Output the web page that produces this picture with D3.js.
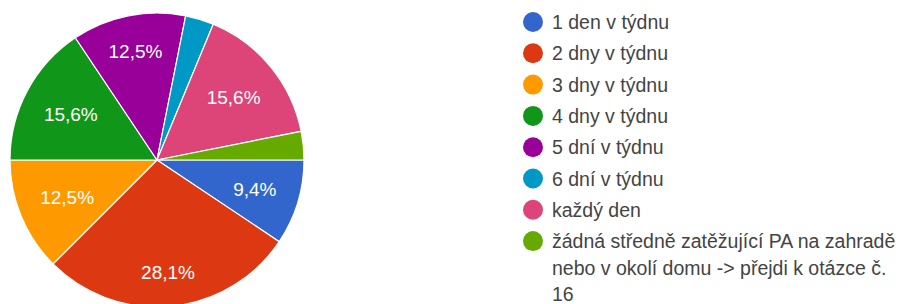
<!DOCTYPE html>
<html>
<head>
<meta charset="utf-8">
<script src="https://cdn.jsdelivr.net/npm/d3@7"></script>
<style>
  body { margin: 0; background: #fff; }
  svg { display: block; }
</style>
</head>
<body>
<div id="chart"></div>
<script>
const categories = [
    "1 den v týdnu",
    "2 dny v týdnu",
    "3 dny v týdnu",
    "4 dny v týdnu",
    "5 dní v týdnu",
    "6 dní v týdnu",
    "každý den",
    "žádná středně zatěžující PA na zahradě nebo v okolí domu -> přejdi k otázce č. 16"
];
const counts = [3, 9, 4, 5, 4, 1, 5, 1];
const colors = ["#3366cc", "#dc3912", "#ff9900", "#109618", "#990099", "#0099c6", "#dd4477", "#66aa00"];

const width = 903, height = 304;
const cx = 157, cy = 160, radius = 147;
const font = "'Liberation Sans', Arial, sans-serif";

const svg = d3.select("#chart").append("svg")
    .attr("width", width)
    .attr("height", height);

const total = d3.sum(counts);
const data = counts.map((c, i) => ({name: categories[i], value: c, color: colors[i]}));

// slices start at 3 o'clock and go clockwise
const pie = d3.pie()
    .value(d => d.value)
    .sort(null)
    .startAngle(Math.PI / 2)
    .endAngle(Math.PI / 2 + 2 * Math.PI);

const arc = d3.arc().innerRadius(0).outerRadius(radius);

const g = svg.append("g")
    .attr("transform", "translate(" + cx + "," + cy + ")");

const slices = pie(data);

g.selectAll("path")
    .data(slices)
    .enter()
    .append("path")
    .attr("d", arc)
    .attr("fill", d => d.data.color)
    .attr("stroke", "#fff")
    .attr("stroke-width", 1.2);

const fmt = v => (Math.round(v * 1000) / 10).toFixed(1).replace(".", ",") + "%";

// labels pushed out along the mid angle until the far corner of the text box hits ~0.85r
const labels = g.selectAll("text")
    .data(slices.filter(d => d.data.value / total > 0.05))
    .enter()
    .append("text")
    .attr("text-anchor", "middle")
    .attr("dy", "0.35em")
    .attr("fill", "#fff")
    .style("font-family", font)
    .style("font-size", "19px")
    .text(d => fmt(d.data.value / total));

const R = radius * 0.85, textH = 14;
labels.attr("transform", function(d) {
    const a = (d.startAngle + d.endAngle) / 2;
    const ux = Math.sin(a), uy = -Math.cos(a);
    const w = this.getComputedTextLength();
    const c = [Math.sign(ux) * w / 2, Math.sign(uy) * textH / 2];
    const uc = ux * c[0] + uy * c[1];
    const t = -uc + Math.sqrt(uc * uc - (c[0] * c[0] + c[1] * c[1]) + R * R);
    return "translate(" + (t * ux) + "," + (t * uy) + ")";
});

// legend
const legendX = 533, legendY = 22, rowH = 31.3, lineH = 26.5;
const maxTextW = 352;

const legend = svg.append("g");
let y = legendY;
data.forEach((d, i) => {
    const row = legend.append("g");
    row.append("circle")
        .attr("cx", legendX)
        .attr("cy", y)
        .attr("r", 10)
        .attr("fill", d.color);
    const txt = row.append("text")
        .attr("x", legendX + 19)
        .attr("y", y)
        .attr("fill", "#444")
        .style("font-family", font)
        .style("font-size", "19.5px");
    // simple word wrap
    const words = d.name.split(" ");
    let line = [];
    let tspan = txt.append("tspan").attr("x", legendX + 19).attr("dy", "0.36em");
    words.forEach(w => {
        line.push(w);
        tspan.text(line.join(" "));
        if (tspan.node().getComputedTextLength() > maxTextW && line.length > 1) {
            line.pop();
            tspan.text(line.join(" "));
            line = [w];
            tspan = txt.append("tspan").attr("x", legendX + 19).attr("dy", lineH + "px").text(w);
        }
    });
    y += rowH;
});
</script>
</body>
</html>
